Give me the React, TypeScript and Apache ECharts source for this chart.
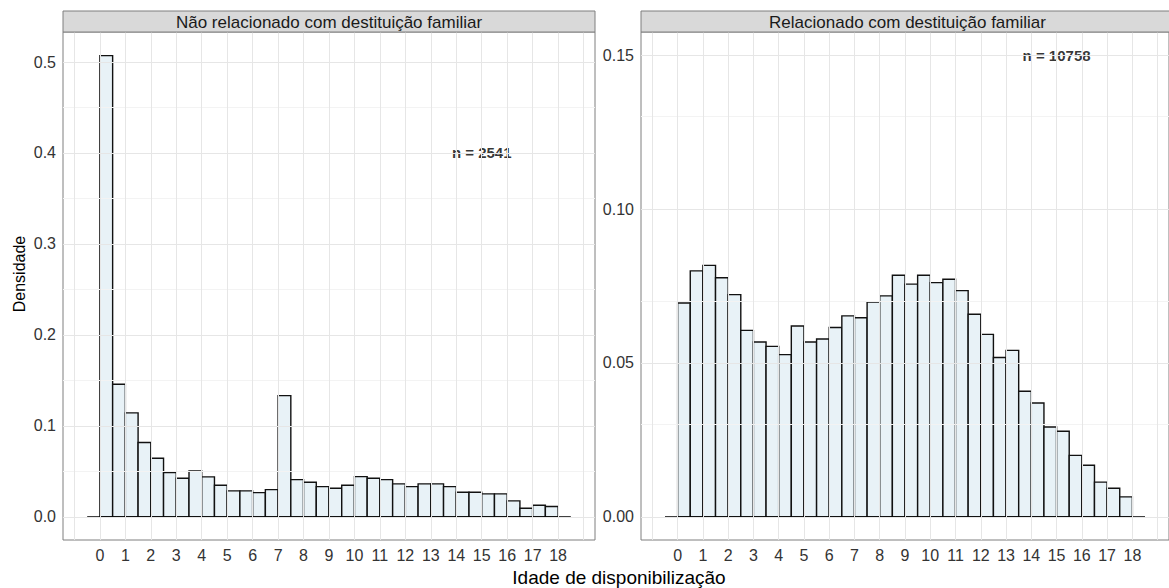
import React, { useEffect, useRef } from "react";
import * as echarts from "echarts";

// Bin starts (width 0.5) for the histogram of age
const binStarts = [
  0, 0.5, 1, 1.5, 2, 2.5, 3, 3.5, 4, 4.5, 5, 5.5, 6, 6.5, 7, 7.5, 8, 8.5,
  9, 9.5, 10, 10.5, 11, 11.5, 12, 12.5, 13, 13.5, 14, 14.5, 15, 15.5, 16, 16.5, 17, 17.5,
];
const binWidth = 0.5;

const panelTitles = [
  "Não relacionado com destituição familiar",
  "Relacionado com destituição familiar",
];

// Densities, panel 1 (não relacionado)
const densityNao = [
  0.507, 0.1458, 0.1143, 0.0817, 0.0645, 0.0487, 0.0425, 0.0505, 0.044, 0.0348,
  0.0286, 0.0286, 0.0267, 0.030, 0.1333, 0.041, 0.038, 0.0333, 0.0315, 0.0348,
  0.0443, 0.0425, 0.041, 0.0363, 0.0333, 0.0363, 0.0363, 0.0333, 0.0271, 0.0271,
  0.0253, 0.0253, 0.0176, 0.0095, 0.0128, 0.0114,
];

// Densities, panel 2 (relacionado)
const densityRel = [
  0.0695, 0.0799, 0.0817, 0.0777, 0.0722, 0.0606, 0.0568, 0.0554, 0.0527, 0.062,
  0.0568, 0.0578, 0.0615, 0.0653, 0.0647, 0.0698, 0.0718, 0.0785, 0.0756, 0.0785,
  0.0761, 0.0772, 0.0735, 0.0658, 0.0593, 0.0518, 0.0541, 0.0408, 0.037, 0.0292,
  0.0278, 0.020, 0.0168, 0.0113, 0.0093, 0.0065,
];

const nLabels = ["n = 2541", "n = 10758"];
const nLabelPos = [
  [15, 0.4],
  [15, 0.15],
];

const xTicks = [0, 1, 2, 3, 4, 5, 6, 7, 8, 9, 10, 11, 12, 13, 14, 15, 16, 17, 18];
const xGrid = [-1, 0, 1, 2, 3, 4, 5, 6, 7, 8, 9, 10, 11, 12, 13, 14, 15, 16, 17, 18, 19];
const yTicks1 = [0, 0.1, 0.2, 0.3, 0.4, 0.5];
const yMinor1 = [0.05, 0.15, 0.25, 0.35, 0.45];
const yTicks2 = [0, 0.05, 0.1, 0.15];
const yMinor2 = [0.025, 0.075, 0.125];

const FONT = "'Liberation Sans', Arial, sans-serif";

const panels = [
  { left: 63, width: 532, yMin: -0.0254, yMax: 0.533, yTicks: yTicks1, yMinor: yMinor1, dec: 1, data: densityNao },
  { left: 641, width: 533, yMin: -0.0075, yMax: 0.1575, yTicks: yTicks2, yMinor: yMinor2, dec: 2, data: densityRel },
];
const TOP = 32;
const HEIGHT = 508;

export default function App() {
  const ref = useRef<HTMLDivElement>(null);
  useEffect(() => {
    if (!ref.current) return;
    const chart = echarts.init(ref.current, undefined, { renderer: "svg" });

    const grids: any[] = [];
    const xAxes: any[] = [];
    const yAxes: any[] = [];
    const series: any[] = [];
    const graphics: any[] = [];

    panels.forEach((p, i) => {
      grids.push({
        left: p.left,
        top: TOP,
        width: p.width,
        height: HEIGHT,
        show: true,
        backgroundColor: "#ffffff",
        borderColor: "#7f7f7f",
        borderWidth: 1,
        containLabel: false,
      });
      xAxes.push({
        gridIndex: i,
        type: "value",
        min: -1.45,
        max: 19.45,
        axisLine: { show: false },
        axisTick: { show: true, customValues: xTicks, length: 5, lineStyle: { color: "#333333", width: 1 } },
        axisLabel: {
          customValues: xTicks,
          fontSize: 16,
          color: "#333333",
          fontFamily: FONT,
          margin: 7,
        },
        splitLine: { show: false },
      });
      yAxes.push({
        gridIndex: i,
        type: "value",
        min: p.yMin,
        max: p.yMax,
        axisLine: { show: false },
        axisTick: { show: true, customValues: p.yTicks, length: 5, lineStyle: { color: "#333333", width: 1 } },
        axisLabel: {
          customValues: p.yTicks,
          fontSize: 16,
          color: "#333333",
          fontFamily: FONT,
          margin: 7,
          formatter: (v: number) => v.toFixed(p.dec),
        },
        splitLine: { show: false },
      });

      // gridlines (helper series)
      const mlData: any[] = [];
      p.yMinor.forEach((v) => mlData.push({ yAxis: v, lineStyle: { color: "#f3f3f3", width: 1, type: "solid" } }));
      p.yTicks.forEach((v) => mlData.push({ yAxis: v, lineStyle: { color: "#e6e6e6", width: 1, type: "solid" } }));
      xGrid.forEach((v) => mlData.push({ xAxis: v, lineStyle: { color: "#e6e6e6", width: 1, type: "solid" } }));
      series.push({
        type: "line",
        xAxisIndex: i,
        yAxisIndex: i,
        data: [
          [-0.5, 0],
          [18.5, 0],
        ],
        showSymbol: false,
        symbol: "none",
        lineStyle: { opacity: 0 },
        silent: true,
        z: 0,
        markLine: {
          silent: true,
          symbol: "none",
          label: { show: false },
          animation: false,
          data: mlData,
        },
      });

      // histogram bars
      series.push({
        type: "custom",
        xAxisIndex: i,
        yAxisIndex: i,
        z: 2,
        encode: { x: [0, 1], y: 2 },
        data: p.data.map((v, k) => [binStarts[k], binStarts[k] + binWidth, v]),
        renderItem: (params: any, api: any) => {
          const x0 = api.value(0);
          const x1 = api.value(1);
          const y = api.value(2);
          const a = api.coord([x0, y]);
          const b = api.coord([x1, 0]);
          return {
            type: "rect",
            shape: { x: a[0], y: a[1], width: b[0] - a[0], height: b[1] - a[1] },
            style: { fill: "#e8f2f7", stroke: "#111111", lineWidth: 1.4 },
          };
        },
      });

      // baseline y = 0
      series.push({
        type: "line",
        xAxisIndex: i,
        yAxisIndex: i,
        data: [
          [-0.5, 0],
          [18.5, 0],
        ],
        showSymbol: false,
        symbol: "none",
        lineStyle: { color: "#000000", width: 1.4 },
        silent: true,
        z: 3,
      });

      // n label
      series.push({
        type: "scatter",
        xAxisIndex: i,
        yAxisIndex: i,
        z: 4,
        silent: true,
        symbol: "circle",
        symbolSize: 1,
        itemStyle: { color: "rgba(0,0,0,0)" },
        data: [[nLabelPos[i][0], nLabelPos[i][1]]],
        label: {
          show: true,
          position: "inside",
          formatter: nLabels[i],
          color: "#000000",
          fontSize: 15,
          fontWeight: "bold",
          fontFamily: FONT,
          textBorderWidth: 0,
          textBorderColor: "transparent",
        },
      });

      // strip
      graphics.push({
        type: "rect",
        shape: { x: p.left, y: 11, width: p.width, height: TOP - 11 },
        style: { fill: "#d9d9d9", stroke: "#7f7f7f", lineWidth: 1 },
        z: 10,
      });
      graphics.push({
        type: "text",
        x: p.left + p.width / 2,
        y: 11 + (TOP - 11) / 2 + 1,
        style: {
          text: panelTitles[i],
          fill: "#1a1a1a",
          fontSize: 17,
          fontFamily: FONT,
          align: "center",
          verticalAlign: "middle",
        },
        z: 11,
      });
    });

    graphics.push({
      type: "text",
      x: 619,
      y: 577,
      style: {
        text: "Idade de disponibilização",
        fill: "#000000",
        fontSize: 19,
        fontFamily: FONT,
        align: "center",
        verticalAlign: "middle",
      },
    });
    graphics.push({
      type: "text",
      x: 19,
      y: 274,
      rotation: Math.PI / 2,
      style: {
        text: "Densidade",
        fill: "#000000",
        fontSize: 16,
        fontFamily: FONT,
        align: "center",
        verticalAlign: "middle",
      },
    });

    chart.setOption({
      animation: false,
      backgroundColor: "#ffffff",
      grid: grids,
      xAxis: xAxes,
      yAxis: yAxes,
      series,
      graphic: graphics,
    });
    return () => chart.dispose();
  }, []);

  return (
    <div
      ref={ref}
      style={{ position: "fixed", left: 0, top: 0, width: 1169, height: 588, background: "#fff" }}
    />
  );
}
